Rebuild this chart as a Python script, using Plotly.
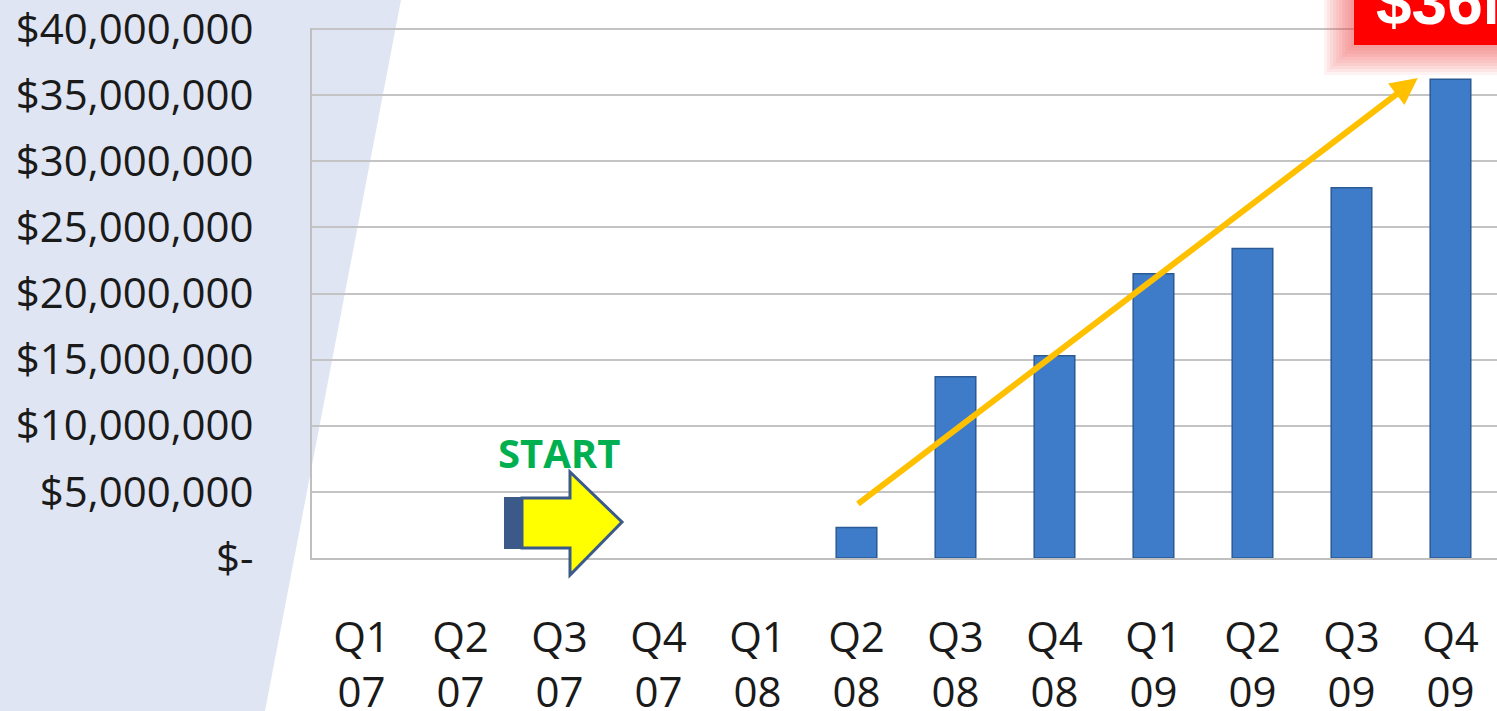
import plotly.graph_objects as go

quarters = ["Q1<br>07", "Q2<br>07", "Q3<br>07", "Q4<br>07", "Q1<br>08", "Q2<br>08",
            "Q3<br>08", "Q4<br>08", "Q1<br>09", "Q2<br>09", "Q3<br>09", "Q4<br>09"]
revenue = [0, 0, 0, 0, 0, 2300000, 13700000, 15300000, 21500000, 23400000, 28000000, 36200000]
y_tickvals = [0, 5000000, 10000000, 15000000, 20000000, 25000000, 30000000, 35000000, 40000000]
y_ticktext = ["$-", "$5,000,000", "$10,000,000", "$15,000,000", "$20,000,000",
              "$25,000,000", "$30,000,000", "$35,000,000", "$40,000,000"]
callout_text = "$36M"
start_text = "START"

xs = list(range(len(quarters)))

fig = go.Figure()
fig.add_trace(go.Bar(
    x=xs, y=revenue, width=0.41,
    marker=dict(color="#3e7cca",
                line=dict(color="#2b5a94", width=[0 if v == 0 else 1.5 for v in revenue])),
    hoverinfo="skip",
))

W, H = 1497, 711
L, R, T, B = 312, 0, 28, 153
pw, ph = W - L - R, H - T - B

def px(x):
    return (x - L) / pw

def py(y):
    return (H - B - y) / ph

shapes = []
# background slanted panel
shapes.append(dict(type="path", xref="paper", yref="paper", layer="below",
                   path=f"M {px(0)},{py(0)} L {px(401)},{py(0)} L {px(265)},{py(711)} L {px(0)},{py(711)} Z",
                   fillcolor="#e0e5f3", line=dict(width=0)))
# red callout glow
for pad in range(30, 0, -3):
    shapes.append(dict(type="rect", xref="paper", yref="paper",
                       x0=px(1354 - pad), x1=px(1510), y0=py(-20), y1=py(45 + pad),
                       fillcolor="rgba(235,70,70,0.07)", line=dict(width=0)))
shapes.append(dict(type="rect", xref="paper", yref="paper",
                   x0=px(1354), x1=px(1510), y0=py(-20), y1=py(45),
                   fillcolor="#ff0000", line=dict(width=0)))
# START block arrow
shapes.append(dict(type="path", xref="paper", yref="paper",
                   path=(f"M {px(522)},{py(498)} L {px(570)},{py(498)} L {px(570)},{py(472)} "
                         f"L {px(622)},{py(522)} L {px(570)},{py(575)} L {px(570)},{py(548)} "
                         f"L {px(522)},{py(548)} Z"),
                   fillcolor="#ffff00", line=dict(color="#3b5a8a", width=3)))
shapes.append(dict(type="rect", xref="paper", yref="paper",
                   x0=px(505), x1=px(522), y0=py(548), y1=py(498),
                   fillcolor="#3b5a8a", line=dict(color="#3b5a8a", width=2)))

annotations = [
    dict(x=10.67, y=36300000, ax=5.0, ay=4000000, xref="x", yref="y", axref="x", ayref="y",
         text="", showarrow=True, arrowhead=2, arrowsize=0.9, arrowwidth=6, arrowcolor="#ffc000"),
    dict(x=2.0, y=8000000, xref="x", yref="y", text=start_text, showarrow=False,
         font=dict(family="Open Sans", size=40, color="#00b050", weight="bold")),
    dict(x=px(1374), y=py(25), xref="paper", yref="paper", xanchor="left", yanchor="bottom",
         text=callout_text, showarrow=False, yshift=-15,
         font=dict(family="Liberation Sans", size=64, color="white", weight="bold")),
]

fig.update_layout(
    width=W, height=H,
    margin=dict(l=L, r=R, t=T, b=B, pad=0, autoexpand=False),
    paper_bgcolor="white", plot_bgcolor="rgba(0,0,0,0)",
    showlegend=False, shapes=shapes, annotations=annotations,
    bargap=0.59,
)
fig.update_xaxes(range=[-0.5, 11.47], tickvals=xs, ticktext=quarters, automargin=False,
                 showgrid=False, showline=True, linecolor="#bfbfbf", linewidth=2,
                 ticks="", ticklabelstandoff=42, ticklabeloverflow="allow",
                 tickfont=dict(family="Open Sans", size=42, color="#1a1a1a"))
fig.update_yaxes(range=[0, 40080000], tickvals=y_tickvals, ticktext=y_ticktext, automargin=False,
                 showgrid=True, gridcolor="#c4c4c4", gridwidth=2,
                 showline=True, linecolor="#bfbfbf", linewidth=2, zeroline=False,
                 ticks="", ticklabelstandoff=48, ticklabeloverflow="allow",
                 tickfont=dict(family="Open Sans", size=42, color="#1a1a1a"))

fig.write_html("out.html", config={"displayModeBar": False},
               post_script="document.body.style.margin='0';document.body.style.overflow='hidden';")
